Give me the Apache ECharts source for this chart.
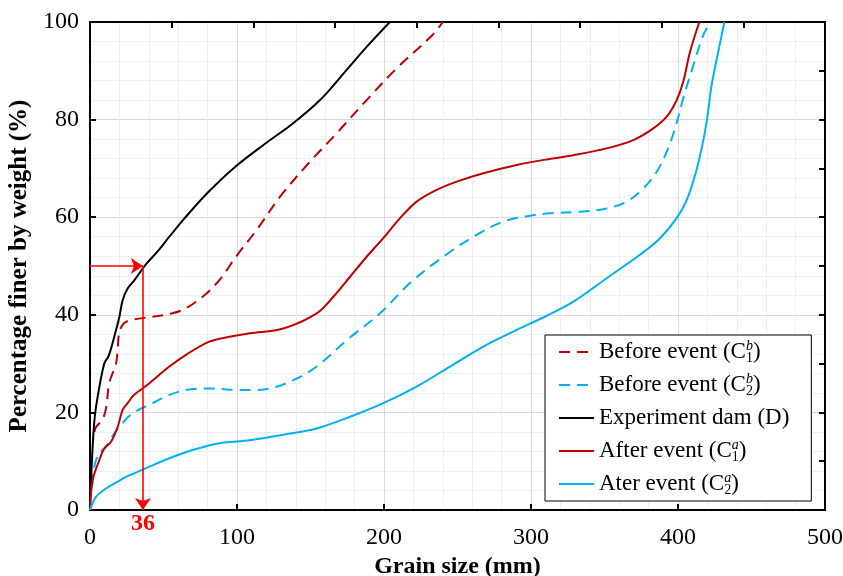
<!DOCTYPE html>
<html><head><meta charset="utf-8">
<script src="https://cdn.jsdelivr.net/npm/echarts@6/dist/echarts.min.js"></script>
<style>html,body{margin:0;padding:0;background:#fff}#c{width:843px;height:576px}</style>
</head><body><div id="c"></div>
<script>
// ---- Data (grain size mm, percentage finer %) ----
const xTicks = [0, 100, 200, 300, 400, 500];
const yTicks = [0, 20, 40, 60, 80, 100];

const beforeC1 = [[3,16],[4.1,17],[8.6,18.6],[11,21],[13.1,26],[17.7,30],[18.8,32.8],[20,36.5],[23.3,38.3],[29,39],[38,39.4],[56,40.3],[65,41.3],[76.6,43.7],[88,47.1],[99.3,51.9],[113.4,57.4],[129.3,64.2],[148.5,71],[167.8,77.2],[188.2,84],[208.6,90.5],[233.5,97.5],[240,100]];
const beforeC2 = [[1.5,5],[3,9],[6,11.5],[10.9,13],[15,15],[20,17.1],[29,19.8],[42.6,21.9],[54,23.6],[67.6,24.7],[83.5,24.9],[99.3,24.6],[110,24.6],[122.4,24.9],[138.3,26.6],[154.2,29.4],[174.6,34.8],[197.3,40.3],[217.7,46.5],[240.3,51.9],[263,56.4],[281.2,59.1],[297.1,60.2],[312.9,60.8],[333.3,61.1],[351.5,61.8],[365.1,63.2],[376.4,65.9],[385.5,69.3],[392.3,73.4],[398,78.2],[403.6,84.4],[410.4,91.1],[417.2,97.3],[422,100]];
const damD = [[0,0],[1,8],[2,14],[3.2,19],[5.2,23.2],[9.7,30],[12.7,31.6],[16.5,35.5],[20,39.6],[22.2,43],[25.6,45.4],[30,47],[37.6,50.2],[46,53],[54,56],[65,60],[80,65],[97.5,70],[118,74.8],[138,79.2],[156.5,84],[174.6,90.2],[188.2,94.9],[204,100]];
const afterC1 = [[0,0],[1.8,6.1],[6.3,10.2],[9.7,12.6],[14.3,14],[18.8,17],[22.2,20.5],[25.6,21.9],[30,23.6],[37.6,25.3],[54,29.4],[65.3,31.8],[81.2,34.5],[94.8,35.5],[108.8,36.2],[131.5,37.2],[154.2,40.3],[165.5,43.7],[176.9,47.8],[188.2,51.9],[199.5,55.7],[210.9,59.8],[222.2,63.2],[235.8,65.6],[249.5,67.3],[267.6,69],[290.3,70.7],[310,71.8],[328.8,72.7],[351.5,74.1],[369.6,75.8],[383.2,78.2],[392.3,80.6],[399.1,84],[403.6,87.8],[408.2,93.9],[414.5,100]];
const afterC2 = [[0,0],[4.1,2.7],[10.9,4.4],[18.8,5.8],[24.5,6.8],[30,7.5],[37.6,8.5],[54,10.6],[69.8,12.3],[88,13.7],[108.8,14.3],[131.5,15.4],[154.2,16.7],[176.9,19.1],[199.5,21.9],[222.2,25.3],[244.9,29.4],[267.6,33.5],[290.3,36.9],[310,39.7],[328.8,42.7],[351.5,47.5],[374.1,52.3],[387.8,55.7],[399.1,59.8],[405.9,63.5],[411.6,68.6],[416.1,74.1],[419.5,79.6],[422.9,87.1],[427.4,93.9],[431.5,100]];

const d50Size = 36;   // annotated grain size
const d50Pct = 50;    // annotated percentage

const names = ['Before event (C1b)', 'Before event (C2b)', 'Experiment dam (D)', 'After event (C1a)', 'Ater event (C2a)'];
const richNames = {
  'Before event (C1b)': '{base|Before event (C}{sub|1}{sup|b}{base|)}',
  'Before event (C2b)': '{base|Before event (C}{sub|2}{sup|b}{base|)}',
  'Experiment dam (D)': '{base|Experiment dam (D)}',
  'After event (C1a)': '{base|After event (C}{sub|1}{sup|a}{base|)}',
  'Ater event (C2a)': '{base|Ater event (C}{sub|2}{sup|a}{base|)}'
};

const RED = '#C00000', BLUE = '#00B0F0', FONT = 'Liberation Serif';
const chart = echarts.init(document.getElementById('c'), null, {renderer: 'canvas'});

function mkSeries(name, data, color, dashed) {
  return {
    name, type: 'line', data, symbol: 'none', smooth: 0.35,
    xAxisIndex: 0, yAxisIndex: 0,
    lineStyle: {color, width: 2, type: dashed ? [11, 7] : 'solid'},
    itemStyle: {color},
    emphasis: {disabled: true}, silent: true, z: 3
  };
}

const option = {
  animation: false,
  backgroundColor: '#fff',
  grid: {left: 90, right: 18, top: 22, bottom: 66, containLabel: false, outerBoundsMode: 'none'},
  xAxis: [{
    type: 'value', position: 'bottom', min: 0, max: 500, interval: 100,
    axisLine: {show: true, onZero: false, lineStyle: {color: '#000', width: 2}},
    axisTick: {show: true, inside: true, length: 6, lineStyle: {color: '#000', width: 2}},
    axisLabel: {color: '#000', fontFamily: FONT, fontSize: 24, margin: 16},
    splitLine: {show: true, lineStyle: {color: '#d9d9d9', width: 1}},
    minorTick: {show: false, splitNumber: 5},
    minorSplitLine: {show: true, lineStyle: {color: '#efefef', width: 1}},
    name: 'Grain size (mm)', nameLocation: 'middle', nameGap: 44,
    nameTextStyle: {color: '#000', fontFamily: FONT, fontSize: 24, fontWeight: 'bold'}
  }, {
    type: 'value', position: 'top', min: 0, max: 9, interval: 1,
    axisLine: {show: true, onZero: false, lineStyle: {color: '#000', width: 2}},
    axisTick: {show: true, inside: true, length: 6, lineStyle: {color: '#000', width: 2}},
    axisLabel: {show: false}, splitLine: {show: false}
  }],
  yAxis: [{
    type: 'value', position: 'left', min: 0, max: 100, interval: 20,
    axisLine: {show: true, onZero: false, lineStyle: {color: '#000', width: 2}},
    axisTick: {show: true, inside: true, length: 6, lineStyle: {color: '#000', width: 2}},
    axisLabel: {color: '#000', fontFamily: FONT, fontSize: 24, margin: 11},
    splitLine: {show: true, lineStyle: {color: '#d9d9d9', width: 1}},
    minorTick: {show: false, splitNumber: 5},
    minorSplitLine: {show: true, lineStyle: {color: '#efefef', width: 1}},
    name: 'Percentage finer by weight (%)', nameLocation: 'middle', nameGap: 51,
    nameTextStyle: {color: '#000', fontFamily: FONT, fontSize: 25, fontWeight: 'bold'}
  }, {
    type: 'value', position: 'right', min: 0, max: 10, interval: 1,
    axisLine: {show: true, onZero: false, lineStyle: {color: '#000', width: 2}},
    axisTick: {show: true, inside: true, length: 6, lineStyle: {color: '#000', width: 2}},
    axisLabel: {show: false}, splitLine: {show: false}
  }],
  legend: {
    data: names, orient: 'vertical', left: 545, top: 335,
    backgroundColor: '#fff', borderColor: '#000', borderWidth: 1, borderRadius: 0,
    padding: [4, 22, 4, 13], itemGap: 7, itemWidth: 35, itemHeight: 14,
    selectedMode: false,
    itemStyle: {color: 'rgba(0,0,0,0)', borderWidth: 0, opacity: 0},
    formatter: n => richNames[n],
    textStyle: {
      color: '#000', fontFamily: FONT, fontSize: 23, lineHeight: 26,
      rich: {
        base: {fontFamily: FONT, fontSize: 23, lineHeight: 26, color: '#000'},
        sub: {fontFamily: FONT, fontSize: 14, lineHeight: 14, verticalAlign: 'bottom', width: 0, color: '#000'},
        sup: {fontFamily: FONT, fontSize: 14, lineHeight: 14, verticalAlign: 'top', color: '#000', fontStyle: 'italic'}
      }
    }
  },
  series: [
    mkSeries(names[0], beforeC1, RED, true),
    mkSeries(names[1], beforeC2, BLUE, true),
    mkSeries(names[2], damD, '#000', false),
    mkSeries(names[3], afterC1, RED, false),
    mkSeries(names[4], afterC2, BLUE, false),
    {
      name: 'annot', type: 'line', data: [], symbol: 'none', silent: true, z: 4,
      markLine: {
        silent: true, animation: false,
        symbol: ['none', 'arrow'], symbolSize: 12,
        lineStyle: {color: '#FF0000', width: 1.6, type: 'solid'},
        label: {show: false},
        emphasis: {disabled: true},
        data: [
          [{coord: [0, d50Pct]}, {coord: [d50Size, d50Pct]}],
          [{coord: [d50Size, d50Pct], label: {show: true, position: 'end', distance: 2, formatter: String(d50Size), color: '#FF0000', fontFamily: FONT, fontSize: 24, fontWeight: 'bold'}}, {coord: [d50Size, 0]}]
        ]
      }
    }
  ]
};
chart.setOption(option);
</script></body></html>
